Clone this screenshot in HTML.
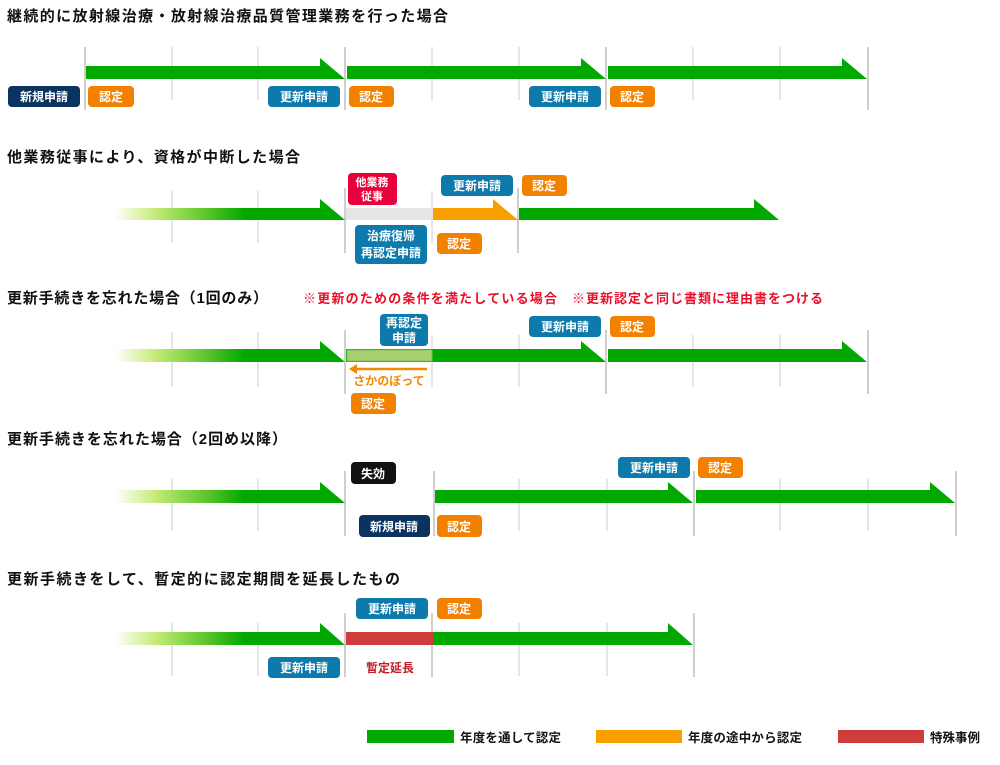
<!DOCTYPE html>
<html><head><meta charset="utf-8"><style>
html,body{margin:0;padding:0;background:#fff;}
svg{display:block;font-family:"Liberation Sans","Noto Sans CJK JP",sans-serif;}
.t{font-size:15px;font-weight:bold;fill:#111;}
.p{font-size:12px;font-weight:bold;fill:#fff;text-anchor:middle;}
.lt{stroke:#e6e6e6;stroke-width:2;}
.mj{stroke:#cfcfcf;stroke-width:2;}
.lg{font-size:12.5px;fill:#111;font-weight:bold;}
</style></head><body>
<svg width="1000" height="765" viewBox="0 0 1000 765" xmlns="http://www.w3.org/2000/svg">
<defs>
<linearGradient id="g" x1="115" x2="245" y1="0" y2="0" gradientUnits="userSpaceOnUse">
<stop offset="0" stop-color="#ffffff"/><stop offset="0.3" stop-color="#c8ec7a"/><stop offset="0.7" stop-color="#5cc62a"/><stop offset="1" stop-color="#00a800"/>
</linearGradient>
</defs>

<!-- Titles -->
<text class="t" x="7" y="21" textLength="441">継続的に放射線治療・放射線治療品質管理業務を行った場合</text>
<text class="t" x="7" y="162" textLength="293">他業務従事により、資格が中断した場合</text>
<text class="t" x="7" y="303" textLength="261">更新手続きを忘れた場合（1回のみ）</text>
<text x="303" y="303" font-size="13" font-weight="bold" fill="#e8102a" textLength="254">※更新のための条件を満たしている場合</text>
<text x="572" y="303" font-size="13" font-weight="bold" fill="#e8102a" textLength="251">※更新認定と同じ書類に理由書をつける</text>
<text class="t" x="7" y="444" textLength="280">更新手続きを忘れた場合（2回め以降）</text>
<text class="t" x="7" y="584" textLength="393">更新手続きをして、暫定的に認定期間を延長したもの</text>

<!-- Row 1 -->
<g>
<line class="lt" x1="172" y1="47" x2="172" y2="100"/><line class="lt" x1="258" y1="47" x2="258" y2="100"/>
<line class="lt" x1="432" y1="47" x2="432" y2="100"/><line class="lt" x1="519" y1="47" x2="519" y2="100"/>
<line class="lt" x1="693" y1="47" x2="693" y2="100"/><line class="lt" x1="780" y1="47" x2="780" y2="100"/>
<line class="mj" x1="85" y1="47" x2="85" y2="110"/><line class="mj" x1="345" y1="47" x2="345" y2="110"/>
<line class="mj" x1="606" y1="47" x2="606" y2="110"/><line class="mj" x1="868" y1="47" x2="868" y2="110"/>
<polygon fill="#00a800" points="86,66 320,66 320,58 345,79 86,79"/>
<polygon fill="#00a800" points="347,66 581,66 581,58 606,79 347,79"/>
<polygon fill="#00a800" points="608,66 842,66 842,58 867,79 608,79"/>
<rect x="8" y="86" width="72" height="21" rx="4" fill="#0a3360"/><text class="p" x="44" y="101">新規申請</text>
<rect x="88" y="86" width="46" height="21" rx="4" fill="#f28100"/><text class="p" x="111" y="101">認定</text>
<rect x="268" y="86" width="72" height="21" rx="4" fill="#0e7aac"/><text class="p" x="304" y="101">更新申請</text>
<rect x="349" y="86" width="45" height="21" rx="4" fill="#f28100"/><text class="p" x="371" y="101">認定</text>
<rect x="529" y="86" width="72" height="21" rx="4" fill="#0e7aac"/><text class="p" x="565" y="101">更新申請</text>
<rect x="610" y="86" width="45" height="21" rx="4" fill="#f28100"/><text class="p" x="632" y="101">認定</text>
</g>

<!-- Row 2 -->
<g>
<line class="lt" x1="172" y1="191" x2="172" y2="243"/><line class="lt" x1="258" y1="191" x2="258" y2="243"/>
<line class="mj" x1="345" y1="188" x2="345" y2="253"/><line class="lt" x1="432" y1="191" x2="432" y2="243"/>
<line class="mj" x1="518" y1="188" x2="518" y2="253"/>
<polygon fill="url(#g)" points="115,208 320,208 320,199 345,220 115,220"/>
<rect x="346" y="208" width="87" height="12" fill="#e6e6e6"/>
<polygon fill="#f8a000" points="433,208 493,208 493,199 518,220 433,220"/>
<polygon fill="#00a800" points="519,208 754,208 754,199 779,220 519,220"/>
<rect x="348" y="173" width="49" height="32" rx="4" fill="#e8003a"/>
<text class="p" x="372" y="186" style="font-size:11px">他業務</text><text class="p" x="372" y="200" style="font-size:11px">従事</text>
<rect x="441" y="175" width="72" height="21" rx="4" fill="#0e7aac"/><text class="p" x="477" y="190">更新申請</text>
<rect x="522" y="175" width="45" height="21" rx="4" fill="#f28100"/><text class="p" x="544" y="190">認定</text>
<rect x="355" y="225" width="72" height="39" rx="4" fill="#0e7aac"/>
<text class="p" x="391" y="240">治療復帰</text><text class="p" x="391" y="257">再認定申請</text>
<rect x="437" y="233" width="45" height="21" rx="4" fill="#f28100"/><text class="p" x="459" y="248">認定</text>
</g>

<!-- Row 3 -->
<g>
<line class="lt" x1="172" y1="332" x2="172" y2="387"/><line class="lt" x1="258" y1="332" x2="258" y2="387"/>
<line class="mj" x1="345" y1="330" x2="345" y2="394"/><line class="lt" x1="432" y1="335" x2="432" y2="387"/>
<line class="lt" x1="519" y1="335" x2="519" y2="387"/><line class="mj" x1="606" y1="330" x2="606" y2="394"/>
<line class="lt" x1="693" y1="335" x2="693" y2="387"/><line class="lt" x1="780" y1="335" x2="780" y2="387"/>
<line class="mj" x1="868" y1="330" x2="868" y2="394"/>
<polygon fill="url(#g)" points="115,349 320,349 320,341 345,362 115,362"/>
<rect x="346" y="349" width="87" height="13" fill="#00a800"/>
<rect x="347" y="350" width="85" height="11" fill="#a8d070" stroke="#7cc04a" stroke-width="1"/>
<polygon fill="#00a800" points="433,349 581,349 581,341 606,362 433,362"/>
<polygon fill="#00a800" points="608,349 842,349 842,341 867,362 608,362"/>
<rect x="380" y="314" width="48" height="32" rx="4" fill="#0e7aac"/>
<text class="p" x="404" y="327">再認定</text><text class="p" x="404" y="342">申請</text>
<rect x="529" y="316" width="72" height="21" rx="4" fill="#0e7aac"/><text class="p" x="565" y="331">更新申請</text>
<rect x="610" y="316" width="45" height="21" rx="4" fill="#f28100"/><text class="p" x="632" y="331">認定</text>
<line x1="356" y1="369" x2="427" y2="369" stroke="#f08a00" stroke-width="2.5"/>
<polygon fill="#f08a00" points="349,369 357,364 357,374"/>
<text x="389" y="385" font-size="12" font-weight="bold" fill="#f08a00" text-anchor="middle">さかのぼって</text>
<rect x="351" y="393" width="45" height="21" rx="4" fill="#f28100"/><text class="p" x="373" y="408">認定</text>
</g>

<!-- Row 4 -->
<g>
<line class="lt" x1="172" y1="479" x2="172" y2="531"/><line class="lt" x1="258" y1="479" x2="258" y2="531"/>
<line class="mj" x1="345" y1="471" x2="345" y2="536"/><line class="mj" x1="434" y1="471" x2="434" y2="536"/>
<line class="lt" x1="519" y1="479" x2="519" y2="531"/><line class="lt" x1="607" y1="479" x2="607" y2="531"/>
<line class="mj" x1="694" y1="471" x2="694" y2="536"/><line class="lt" x1="780" y1="479" x2="780" y2="531"/>
<line class="lt" x1="868" y1="479" x2="868" y2="531"/><line class="mj" x1="956" y1="471" x2="956" y2="536"/>
<polygon fill="url(#g)" points="115,490 320,490 320,482 345,503 115,503"/>
<polygon fill="#00a800" points="435,490 668,490 668,482 693,503 435,503"/>
<polygon fill="#00a800" points="696,490 930,490 930,482 955,503 696,503"/>
<rect x="351" y="462" width="45" height="22" rx="4" fill="#111"/><text class="p" x="373" y="478">失効</text>
<rect x="359" y="515" width="71" height="22" rx="4" fill="#0a3360"/><text class="p" x="394" y="531">新規申請</text>
<rect x="437" y="515" width="45" height="22" rx="4" fill="#f28100"/><text class="p" x="459" y="531">認定</text>
<rect x="618" y="457" width="72" height="21" rx="4" fill="#0e7aac"/><text class="p" x="654" y="472">更新申請</text>
<rect x="698" y="457" width="45" height="21" rx="4" fill="#f28100"/><text class="p" x="720" y="472">認定</text>
</g>

<!-- Row 5 -->
<g>
<line class="lt" x1="172" y1="623" x2="172" y2="676"/><line class="lt" x1="258" y1="623" x2="258" y2="676"/>
<line class="mj" x1="345" y1="613" x2="345" y2="677"/><line class="mj" x1="432" y1="613" x2="432" y2="677"/>
<line class="lt" x1="519" y1="623" x2="519" y2="676"/><line class="lt" x1="607" y1="623" x2="607" y2="676"/>
<line class="mj" x1="694" y1="613" x2="694" y2="677"/>
<polygon fill="url(#g)" points="115,632 320,632 320,623 345,645 115,645"/>
<rect x="346" y="632" width="87" height="13" fill="#cf3c3c"/>
<polygon fill="#00a800" points="433,632 668,632 668,623 693,645 433,645"/>
<rect x="356" y="598" width="72" height="21" rx="4" fill="#0e7aac"/><text class="p" x="392" y="613">更新申請</text>
<rect x="437" y="598" width="45" height="21" rx="4" fill="#f28100"/><text class="p" x="459" y="613">認定</text>
<rect x="268" y="657" width="72" height="21" rx="4" fill="#0e7aac"/><text class="p" x="304" y="672">更新申請</text>
<text x="390" y="672" font-size="12" font-weight="bold" fill="#c0202a" text-anchor="middle">暫定延長</text>
</g>

<!-- Legend -->
<rect x="367" y="730" width="87" height="13" fill="#00a800"/>
<text class="lg" x="460" y="742" textLength="101">年度を通して認定</text>
<rect x="596" y="730" width="86" height="13" fill="#f8a000"/>
<text class="lg" x="688" y="742" textLength="114">年度の途中から認定</text>
<rect x="838" y="730" width="86" height="13" fill="#cf3c3c"/>
<text class="lg" x="930" y="742" textLength="50">特殊事例</text>
</svg>
</body></html>
